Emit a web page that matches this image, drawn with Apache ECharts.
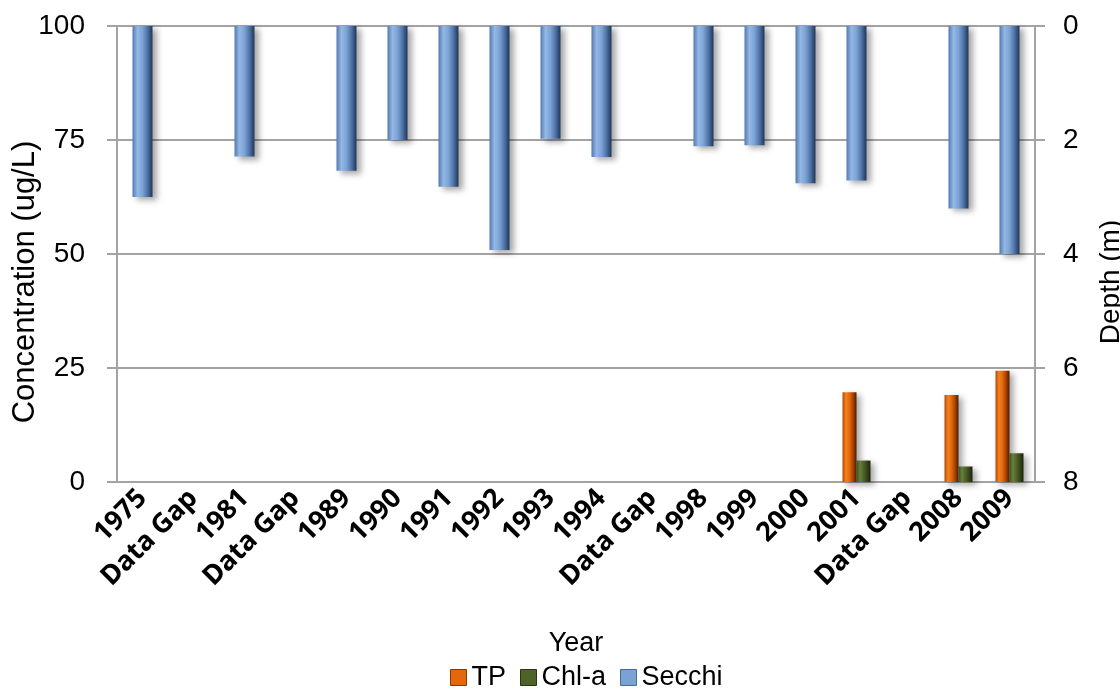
<!DOCTYPE html>
<html>
<head>
<meta charset="utf-8">
<title>TP, Chl-a and Secchi</title>
<script src="https://cdn.jsdelivr.net/npm/echarts@6/dist/echarts.min.js"></script>
<style>
  html, body { margin: 0; padding: 0; background: #fff; }
  #chart { width: 1120px; height: 689px; }
</style>
</head>
<body>
<div id="chart"></div>
<script>
const years = ['1975', 'Data Gap', '1981', 'Data Gap', '1989', '1990', '1991', '1992', '1993',
  '1994', 'Data Gap', '1998', '1999', '2000', '2001', 'Data Gap', '2008', '2009']
// ug/L
const tp = [null, null, null, null, null, null, null, null, null,
  null, null, null, null, null, 19.7, null, 19.1, 24.4]
const chla = [null, null, null, null, null, null, null, null, null,
  null, null, null, null, null, 4.7, null, 3.4, 6.3]
// depth in m
const secchi = [3.0, null, 2.29, null, 2.54, 2.0, 2.82, 3.93, 1.98,
  2.3, null, 2.11, 2.09, 2.76, 2.71, null, 3.2, 4.0]
const concTicks = [0, 25, 50, 75, 100]
const depthTicks = [0, 2, 4, 6, 8]

const labelFont = 'Liberation Sans, Arial, sans-serif'
const gridColor = '#a3a3a3'

function barGrad(stops) {
  return new echarts.graphic.LinearGradient(0, 0, 1, 0,
    stops.map((c, i) => ({ offset: i / (stops.length - 1), color: c })))
}
const shadow = {
  shadowColor: 'rgba(0,0,0,0.35)',
  shadowBlur: 6,
  shadowOffsetX: 4,
  shadowOffsetY: 3
}

const chart = echarts.init(document.getElementById('chart'))

chart.setOption({
  animation: false,
  textStyle: { fontFamily: labelFont },
  grid: { left: 117, right: 85, top: 26, bottom: 207, outerBoundsMode: 'none', containLabel: false },
  legend: {
    top: 659,
    left: 445,
    icon: 'rect',
    itemWidth: 16,
    itemHeight: 16,
    itemGap: 14,
    itemStyle: { shadowBlur: 0, shadowOffsetX: 0, shadowOffsetY: 0 },
    textStyle: { fontSize: 27, color: '#000', fontFamily: labelFont },
    data: [
      { name: 'TP', itemStyle: { color: '#e2680b', borderColor: '#8a3803', borderWidth: 1 } },
      { name: 'Chl-a', itemStyle: { color: '#4f6228', borderColor: '#2a3512', borderWidth: 1 } },
      { name: 'Secchi', itemStyle: { color: '#7ca2d4', borderColor: '#466a9c', borderWidth: 1 } }
    ]
  },
  xAxis: [{
    type: 'category',
    data: years,
    name: 'Year',
    nameLocation: 'middle',
    nameGap: 148,
    nameMoveOverlap: false,
    nameTextStyle: { fontSize: 27, color: '#000' },
    axisLine: { lineStyle: { color: gridColor, width: 2 } },
    axisTick: { show: false },
    axisLabel: {
      interval: 0,
      rotate: 45,
      margin: 12,
      color: '#000',
      fontSize: 27,
      fontWeight: 'bold',
      fontFamily: 'Noto Sans, sans-serif'
    }
  }, {
    type: 'category',
    data: years,
    show: false
  }],
  yAxis: [{
    type: 'value',
    min: concTicks[0],
    max: concTicks[concTicks.length - 1],
    interval: 25,
    name: 'Concentration (ug/L)',
    nameLocation: 'middle',
    nameRotate: 90,
    nameGap: 76,
    nameMoveOverlap: false,
    nameTextStyle: { fontSize: 31, color: '#000', padding: [0, 56, 0, 0] },
    axisLine: { show: true, lineStyle: { color: gridColor, width: 2 } },
    axisTick: { show: true, length: 10, lineStyle: { color: gridColor, width: 2 } },
    axisLabel: { fontSize: 28, color: '#000', margin: 32 },
    splitLine: { lineStyle: { color: gridColor, width: 2 } }
  }, {
    type: 'value',
    inverse: true,
    min: depthTicks[0],
    max: depthTicks[depthTicks.length - 1],
    interval: 2,
    position: 'right',
    name: 'Depth (m)',
    nameLocation: 'middle',
    nameRotate: 90,
    nameGap: 62,
    nameMoveOverlap: false,
    nameTextStyle: { fontSize: 28, color: '#000', padding: [0, 56, 0, 0] },
    axisLine: { show: true, lineStyle: { color: gridColor, width: 2 } },
    axisTick: { show: true, length: 10, lineStyle: { color: gridColor, width: 2 } },
    axisLabel: { fontSize: 28, color: '#000', margin: 28 },
    splitLine: { show: false }
  }],
  series: [{
    name: 'TP',
    type: 'bar',
    barWidth: 14,
    barGap: '0%',
    data: tp,
    itemStyle: Object.assign({
      color: barGrad(['#b14a05', '#f4821f', '#e2680b', '#a94304', '#4a1d00'])
    }, shadow)
  }, {
    name: 'Chl-a',
    type: 'bar',
    barWidth: 14,
    barGap: '0%',
    data: chla,
    itemStyle: Object.assign({
      color: barGrad(['#3e4e20', '#66803a', '#4f6228', '#36451b', '#1a220c'])
    }, shadow)
  }, {
    name: 'Secchi',
    type: 'bar',
    xAxisIndex: 1,
    yAxisIndex: 1,
    barWidth: 20,
    data: secchi,
    itemStyle: Object.assign({
      color: barGrad(['#5479b0', '#93b8e6', '#7ca2d4', '#4e72a6', '#1f3556'])
    }, shadow)
  }]
})
</script>
</body>
</html>
